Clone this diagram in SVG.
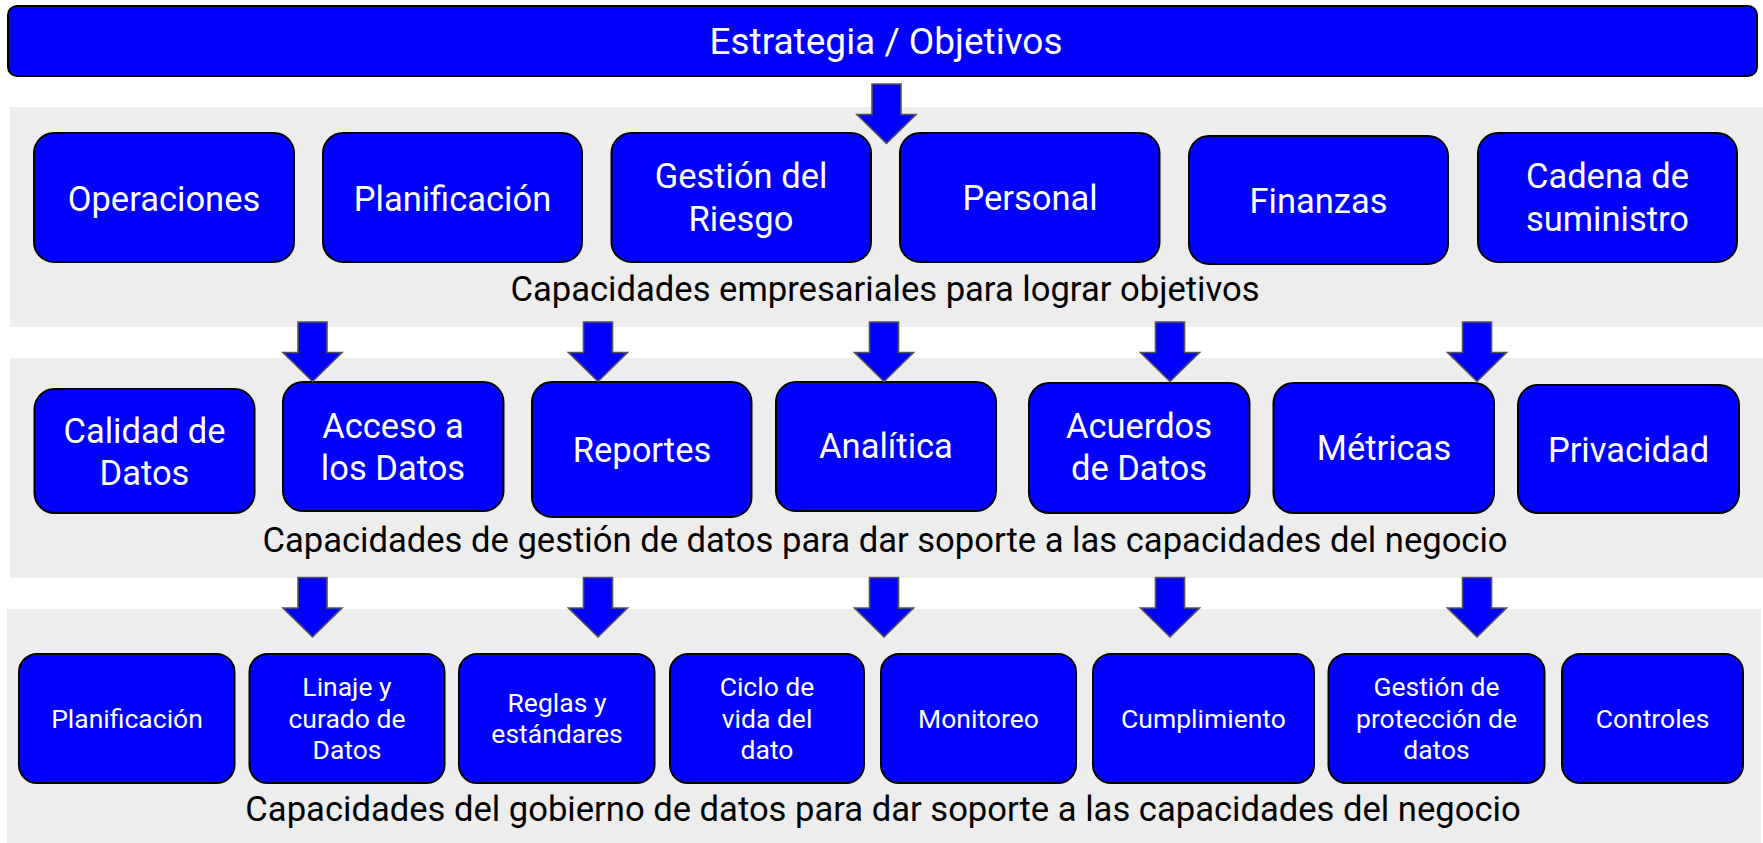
<svg xmlns="http://www.w3.org/2000/svg" xmlns:xlink="http://www.w3.org/1999/xlink" width="1763" height="843" viewBox="0 0 1763 843">
<style>
.band{fill:#ededed}
.box{fill:#0000ff;stroke:#000;stroke-width:2}
.t{font-family:Roboto,"Liberation Sans",sans-serif;fill:#fff;text-anchor:middle}
.l{font-size:34.5px}
.s{font-size:26.5px}
.cap{font-family:Roboto,"Liberation Sans",sans-serif;fill:#000;font-size:34.6px;text-anchor:middle}
.arr{fill:#0000ff;stroke:#555;stroke-width:1.6;stroke-linejoin:miter}
</style>
<defs>
<path id="arrow" class="arr" d="M-14.5,0 H14.5 V30.5 H29.5 L0,59.5 L-29.5,30.5 H-14.5 Z"/>
</defs>
<rect x="0" y="0" width="1763" height="843" fill="#fff"/>
<g id="bands">
<rect class="band" x="10" y="107" width="1753" height="220"/>
<rect class="band" x="10" y="358" width="1753" height="220"/>
<rect class="band" x="7" y="609" width="1754" height="234"/>
<text class="cap" x="885" y="301">Capacidades empresariales para lograr objetivos</text>
<text class="cap" x="885" y="552">Capacidades de gestión de datos para dar soporte a las capacidades del negocio</text>
<text class="cap" x="883" y="821">Capacidades del gobierno de datos para dar soporte a las capacidades del negocio</text>
</g>
<g id="estrategia">
<rect class="box" x="8" y="6" width="1749" height="70" rx="9"/>
<text class="t" x="886" y="54" font-size="37">Estrategia / Objetivos</text>
</g>
<g id="operaciones"><rect class="box" x="34" y="133" width="260" height="129" rx="20"/><text class="t l" x="164" y="211">Operaciones</text></g>
<g id="planificacion1"><rect class="box" x="323" y="133" width="259" height="129" rx="20"/><text class="t l" x="452.5" y="211">Planificación</text></g>
<g id="gestion-riesgo"><rect class="box" x="611.5" y="133" width="259.5" height="129" rx="20"/><text class="t l" x="741" y="188">Gestión del</text><text class="t l" x="741" y="231">Riesgo</text></g>
<g id="personal"><rect class="box" x="900" y="133" width="259.5" height="129" rx="20"/><text class="t l" x="1030" y="210">Personal</text></g>
<g id="finanzas"><rect class="box" x="1189" y="136" width="259" height="128" rx="20"/><text class="t l" x="1318.5" y="213">Finanzas</text></g>
<g id="cadena"><rect class="box" x="1478" y="133" width="259" height="129" rx="20"/><text class="t l" x="1607.5" y="188">Cadena de</text><text class="t l" x="1607.5" y="231">suministro</text></g>

<g id="calidad"><rect class="box" x="34.5" y="389" width="220" height="124" rx="20"/><text class="t l" x="144.5" y="443">Calidad de</text><text class="t l" x="144.5" y="485">Datos</text></g>
<g id="acceso"><rect class="box" x="283" y="382" width="220.5" height="129" rx="20"/><text class="t l" x="393" y="438">Acceso a</text><text class="t l" x="393" y="480">los Datos</text></g>
<g id="reportes"><rect class="box" x="532" y="382" width="219.5" height="135" rx="20"/><text class="t l" x="642" y="462">Reportes</text></g>
<g id="analitica"><rect class="box" x="776" y="382" width="220" height="129" rx="20"/><text class="t l" x="886" y="458">Analítica</text></g>
<g id="acuerdos"><rect class="box" x="1029" y="383" width="220.5" height="130" rx="20"/><text class="t l" x="1139" y="438">Acuerdos</text><text class="t l" x="1139" y="480">de Datos</text></g>
<g id="metricas"><rect class="box" x="1273.5" y="383" width="220.5" height="130" rx="20"/><text class="t l" x="1384" y="460">Métricas</text></g>
<g id="privacidad"><rect class="box" x="1518" y="385" width="221" height="128" rx="20"/><text class="t l" x="1628.5" y="462">Privacidad</text></g>

<g id="planificacion2"><rect class="box" x="19" y="654" width="215.5" height="129" rx="18"/><text class="t s" x="127" y="728">Planificación</text></g>
<g id="linaje"><rect class="box" x="249.5" y="654" width="195" height="129" rx="18"/><text class="t s" x="347" y="696">Linaje y</text><text class="t s" x="347" y="728">curado de</text><text class="t s" x="347" y="759">Datos</text></g>
<g id="reglas"><rect class="box" x="459" y="654" width="195.5" height="129" rx="18"/><text class="t s" x="557" y="712">Reglas y</text><text class="t s" x="557" y="743">estándares</text></g>
<g id="ciclo"><rect class="box" x="670" y="654" width="194" height="129" rx="18"/><text class="t s" x="767" y="696">Ciclo de</text><text class="t s" x="767" y="728">vida del</text><text class="t s" x="767" y="759">dato</text></g>
<g id="monitoreo"><rect class="box" x="881" y="654" width="195" height="129" rx="18"/><text class="t s" x="978.5" y="728">Monitoreo</text></g>
<g id="cumplimiento"><rect class="box" x="1093" y="654" width="221" height="129" rx="18"/><text class="t s" x="1203.5" y="728">Cumplimiento</text></g>
<g id="proteccion"><rect class="box" x="1328.5" y="654" width="216" height="129" rx="18"/><text class="t s" x="1436.5" y="696">Gestión de</text><text class="t s" x="1436.5" y="728">protección de</text><text class="t s" x="1436.5" y="759">datos</text></g>
<g id="controles"><rect class="box" x="1562" y="654" width="181" height="129" rx="18"/><text class="t s" x="1652.5" y="728">Controles</text></g>

<g id="connectors">
<use xlink:href="#arrow" transform="translate(886.5,84)"/>
<use xlink:href="#arrow" transform="translate(312.5,322)"/>
<use xlink:href="#arrow" transform="translate(598,322)"/>
<use xlink:href="#arrow" transform="translate(884,322)"/>
<use xlink:href="#arrow" transform="translate(1170,322)"/>
<use xlink:href="#arrow" transform="translate(1477,322)"/>
<use xlink:href="#arrow" transform="translate(312.5,577.5)"/>
<use xlink:href="#arrow" transform="translate(598,577.5)"/>
<use xlink:href="#arrow" transform="translate(884,577.5)"/>
<use xlink:href="#arrow" transform="translate(1170,577.5)"/>
<use xlink:href="#arrow" transform="translate(1477,577.5)"/>
</g>
</svg>
